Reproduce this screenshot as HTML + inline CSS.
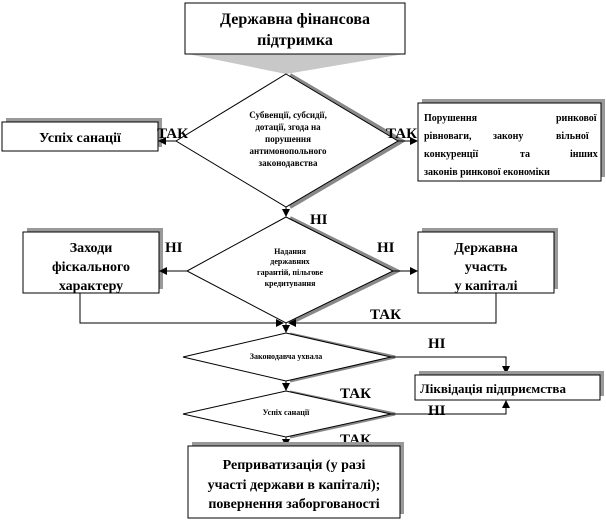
<!DOCTYPE html>
<html><head><meta charset="utf-8"><style>
html,body{margin:0;padding:0;background:#fff;}
svg{display:block;}
text{font-family:"Liberation Serif","DejaVu Serif",serif;font-weight:bold;fill:#000;}
</style></head><body>
<svg width="606" height="522" viewBox="0 0 606 522" xmlns="http://www.w3.org/2000/svg">
<defs><marker id="a" markerWidth="8" markerHeight="8" refX="7" refY="4" orient="auto" markerUnits="userSpaceOnUse"><path d="M0,0 L8,4 L0,8 Z" fill="#000"/></marker></defs>
<!-- top box -->
<polygon points="188,54 404,54 286,74" fill="#c8c8c8"/>
<rect x="185" y="3" width="220" height="51" fill="#fff" stroke="#000"/>
<text x="295" y="24" font-size="16" text-anchor="middle">Державна фінансова</text>
<text x="295" y="45" font-size="16" text-anchor="middle">підтримка</text>
<!-- diamond1 -->
<polyline points="290,75 402,141 290,207" fill="none" stroke="#888" stroke-width="4"/>
<polygon points="286,74 398,141 286,207 176,141" fill="#fff" stroke="#000"/>
<text font-size="9" text-anchor="middle"><tspan x="288" y="118">Субвенції, субсидії,</tspan><tspan x="288" y="130">дотації, згода на</tspan><tspan x="288" y="142">порушення</tspan><tspan x="288" y="154">антимонопольного</tspan><tspan x="288" y="166">законодавства</tspan></text>
<!-- left box -->
<rect x="6" y="118" width="156" height="29" fill="#999"/>
<rect x="2" y="122" width="156" height="29" fill="#fff" stroke="#000"/>
<text x="80" y="142" font-size="14" text-anchor="middle">Успіх санації</text>
<line x1="176" y1="141" x2="159" y2="141" stroke="#000" marker-end="url(#a)"/>
<text x="157" y="138" font-size="15">ТАК</text>
<!-- right box -->
<rect x="422" y="99" width="183" height="78" fill="#999"/>
<rect x="418" y="103" width="183" height="78" fill="#fff" stroke="#000"/>
<text font-size="10"><tspan x="424" y="121">Порушення</tspan><tspan x="556" y="121">ринкової</tspan><tspan x="424" y="139">рівноваги,</tspan><tspan x="493" y="139">закону</tspan><tspan x="556" y="139">вільної</tspan><tspan x="424" y="157">конкуренції</tspan><tspan x="520" y="157">та</tspan><tspan x="570" y="157">інших</tspan><tspan x="424" y="175">законів ринкової економіки</tspan></text>
<line x1="398" y1="141" x2="417" y2="141" stroke="#000" marker-end="url(#a)"/>
<text x="386" y="138" font-size="15">ТАК</text>
<!-- arrow to diamond2 -->
<line x1="286" y1="207" x2="286" y2="216" stroke="#000" marker-end="url(#a)"/>
<text x="310" y="224" font-size="15">НІ</text>
<!-- diamond2 -->
<polyline points="290,218 397,271 290,323" fill="none" stroke="#888" stroke-width="4"/>
<polygon points="286,217 393,271 286,323 187,271" fill="#fff" stroke="#000"/>
<text font-size="8" text-anchor="middle"><tspan x="290" y="254">Надання</tspan><tspan x="290" y="264">державних</tspan><tspan x="290" y="275">гарантій, пільгове</tspan><tspan x="290" y="286">кредитування</tspan></text>
<!-- Заходи -->
<rect x="27" y="228" width="136" height="61" fill="#999"/>
<rect x="23" y="232" width="136" height="61" fill="#fff" stroke="#000"/>
<text font-size="14" text-anchor="middle"><tspan x="91" y="252">Заходи</tspan><tspan x="91" y="271">фіскального</tspan><tspan x="91" y="290">характеру</tspan></text>
<line x1="187" y1="271" x2="160" y2="271" stroke="#000" marker-end="url(#a)"/>
<text x="165" y="252" font-size="15">НІ</text>
<!-- Державна участь -->
<rect x="422" y="228" width="136" height="61" fill="#999"/>
<rect x="418" y="232" width="136" height="61" fill="#fff" stroke="#000"/>
<text font-size="14" text-anchor="middle"><tspan x="486" y="252">Державна</tspan><tspan x="486" y="271">участь</tspan><tspan x="486" y="290">у капіталі</tspan></text>
<line x1="393" y1="271" x2="417" y2="271" stroke="#000" marker-end="url(#a)"/>
<text x="377" y="252" font-size="15">НІ</text>
<!-- merges -->
<polyline points="80,293 80,323 283,323" fill="none" stroke="#000" marker-end="url(#a)"/>
<polyline points="496,293 496,323 289,323" fill="none" stroke="#000" marker-end="url(#a)"/>
<text x="370" y="319" font-size="15">ТАК</text>
<line x1="286" y1="323" x2="286" y2="332" stroke="#000" marker-end="url(#a)"/>
<!-- diamond3 -->
<polyline points="290,334 395,357 290,381" fill="none" stroke="#888" stroke-width="3"/>
<polygon points="286,333 391,357 286,381 183,357" fill="#fff" stroke="#000"/>
<text x="286" y="359" font-size="8" text-anchor="middle">Законодавча ухвала</text>
<polyline points="391,357 506,357 506,373" fill="none" stroke="#000" marker-end="url(#a)"/>
<text x="428" y="348" font-size="15">НІ</text>
<!-- Ліквідація -->
<rect x="419" y="371" width="185" height="25" fill="#999"/>
<rect x="415" y="375" width="185" height="25" fill="#fff" stroke="#000"/>
<text x="493" y="393" font-size="13" text-anchor="middle">Ліквідація підприємства</text>
<line x1="286" y1="381" x2="286" y2="390" stroke="#000" marker-end="url(#a)"/>
<text x="340" y="398" font-size="15">ТАК</text>
<!-- diamond4 -->
<polyline points="290,392 395,414 290,437" fill="none" stroke="#888" stroke-width="3"/>
<polygon points="286,391 391,414 286,437 183,414" fill="#fff" stroke="#000"/>
<text x="286" y="415" font-size="8" text-anchor="middle">Успіх санації</text>
<polyline points="391,414 506,414 506,401" fill="none" stroke="#000" marker-end="url(#a)"/>
<text x="428" y="415" font-size="15">НІ</text>
<line x1="286" y1="437" x2="286" y2="446" stroke="#000" marker-end="url(#a)"/>
<text x="340" y="444" font-size="15">ТАК</text>
<!-- bottom box -->
<rect x="192" y="442" width="212" height="72" fill="#999"/>
<rect x="188" y="446" width="212" height="72" fill="#fff" stroke="#000"/>
<text font-size="14" text-anchor="middle"><tspan x="294" y="469">Реприватизація (у разі</tspan><tspan x="294" y="489">участі держави в капіталі);</tspan><tspan x="294" y="508">повернення заборгованості</tspan></text>
</svg>
</body></html>
